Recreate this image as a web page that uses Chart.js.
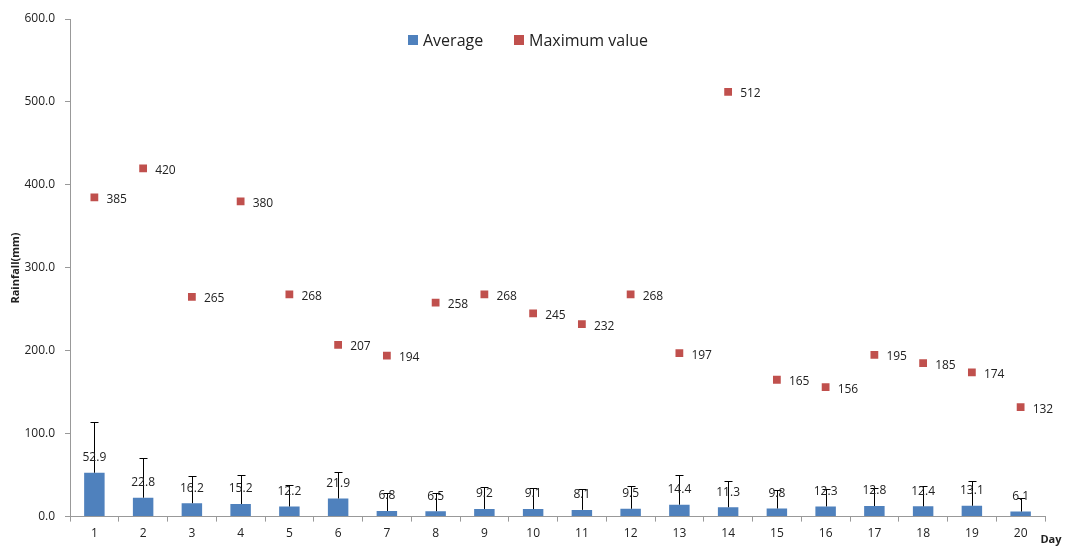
<!DOCTYPE html>
<html>
<head>
<meta charset="utf-8">
<script src="https://cdn.jsdelivr.net/npm/chart.js@4"></script>
<style>
  html, body { margin: 0; padding: 0; background: #fff; }
  #wrap { width: 1065px; height: 546px; }
</style>
</head>
<body>
<div id="wrap"><canvas id="rainChart" width="1065" height="546"></canvas></div>
<script>
// Daily rainfall statistics
const days = ['1','2','3','4','5','6','7','8','9','10','11','12','13','14','15','16','17','18','19','20'];
const averageRain = [52.9, 22.8, 16.2, 15.2, 12.2, 21.9, 6.8, 6.5, 9.2, 9.1, 8.1, 9.5, 14.4, 11.3, 9.8, 12.3, 12.8, 12.4, 13.1, 6.1];
const stdDev = [61.1, 48.2, 32.8, 34.8, 25.8, 32.1, 22.2, 21.5, 26.8, 24.9, 24.9, 27.5, 35.6, 31.7, 22.2, 20.7, 22.2, 24.6, 29.9, 15.9];
const maxRain = [385, 420, 265, 380, 268, 207, 194, 258, 268, 245, 232, 268, 197, 512, 165, 156, 195, 185, 174, 132];
const yTicks = [0, 100, 200, 300, 400, 500, 600];

const BLUE = '#4f81bd';
const RED = '#c0504d';
const FONT = '"Open Sans", "Noto Sans", sans-serif';

// error bars, value labels, legend and axis titles
const extras = {
    id: 'extras',
    afterDatasetsDraw(chart) {
        const ctx = chart.ctx;
        const y = chart.scales.y;
        const barMeta = chart.getDatasetMeta(0);
        const ptMeta = chart.getDatasetMeta(1);
        ctx.save();

        // upward error bars
        ctx.strokeStyle = '#000';
        ctx.lineWidth = 1;
        barMeta.data.forEach((bar, i) => {
            const x = Math.round(bar.x) + 0.5;
            const top = Math.round(y.getPixelForValue(averageRain[i] + stdDev[i])) + 0.5;
            ctx.beginPath();
            ctx.moveTo(x, bar.y);
            ctx.lineTo(x, top);
            ctx.moveTo(x - 4, top);
            ctx.lineTo(x + 4, top);
            ctx.stroke();
        });

        ctx.font = '12px ' + FONT;
        ctx.fillStyle = '#222';
        ctx.textBaseline = 'middle';

        // bar values
        ctx.textAlign = 'center';
        barMeta.data.forEach((bar, i) => {
            ctx.fillText(averageRain[i].toFixed(1), bar.x, bar.y - 15);
        });

        // maximum values
        ctx.textAlign = 'left';
        ptMeta.data.forEach((pt, i) => {
            ctx.fillText(String(maxRain[i]), pt.x + 12, pt.y + 2);
        });

        // legend
        ctx.font = '16px ' + FONT;
        ctx.fillStyle = BLUE;
        ctx.fillRect(408, 35, 10, 10);
        ctx.fillStyle = '#222';
        ctx.fillText('Average', 423, 41);
        ctx.fillStyle = RED;
        ctx.fillRect(514, 35, 10, 10);
        ctx.fillStyle = '#222';
        ctx.fillText('Maximum value', 529, 41);

        // axis titles
        ctx.font = 'bold 11px ' + FONT;
        ctx.textAlign = 'center';
        ctx.fillText('Day', 1051, 540);
        ctx.translate(16, 268);
        ctx.rotate(-Math.PI / 2);
        ctx.fillText('Rainfall(mm)', 0, 0);
        ctx.restore();
    }
};

new Chart(document.getElementById('rainChart').getContext('2d'), {
    data: {
        labels: days,
        datasets: [{
            type: 'bar',
            label: 'Average',
            data: averageRain,
            backgroundColor: BLUE,
            borderWidth: 0,
            barPercentage: 0.42,
            categoryPercentage: 1,
            order: 2
        }, {
            type: 'line',
            label: 'Maximum value',
            data: maxRain,
            showLine: false,
            pointStyle: 'rect',
            pointRadius: 5.5,
            pointBackgroundColor: RED,
            pointBorderColor: RED,
            pointBorderWidth: 0,
            order: 1
        }]
    },
    options: {
        responsive: false,
        animation: false,
        layout: { padding: { top: 19, right: 20, bottom: 0, left: 0 } },
        plugins: {
            legend: { display: false },
            tooltip: { enabled: false }
        },
        scales: {
            x: {
                offset: true,
                grid: { offset: true, drawOnChartArea: false, tickLength: 5, color: '#999' },
                border: { color: '#999' },
                ticks: { color: '#222', font: { size: 12, family: FONT }, padding: 5, maxRotation: 0 }
            },
            y: {
                min: 0,
                max: 600,
                afterFit(scale) { scale.width = 70; },
                afterBuildTicks(scale) { scale.ticks = yTicks.map(v => ({ value: v })); },
                grid: { drawOnChartArea: false, tickLength: 5, color: '#999' },
                border: { color: '#999' },
                ticks: {
                    color: '#222',
                    font: { size: 12, family: FONT },
                    padding: 10,
                    callback: v => Number(v).toFixed(1)
                }
            }
        }
    },
    plugins: [extras]
});
</script>
</body>
</html>
